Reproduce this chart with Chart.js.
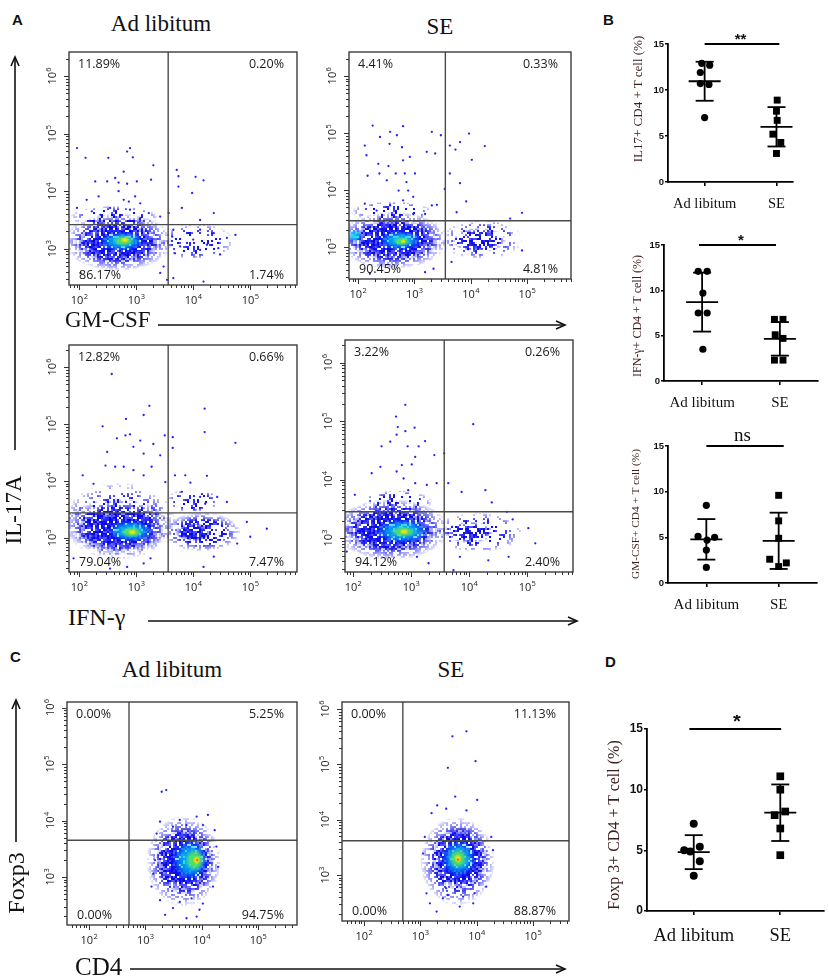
<!DOCTYPE html>
<html><head><meta charset="utf-8"><title>Flow cytometry figure</title>
<script src="https://cdn.jsdelivr.net/npm/chart.js@4.4.1/dist/chart.umd.min.js"></script>
<style>
html,body{margin:0;padding:0;background:#fff}
#fig{position:relative;width:829px;height:978px;overflow:hidden;background:#fff}
#fig canvas{position:absolute}
.tx{position:absolute;white-space:nowrap;line-height:1;color:#111}
#fig svg{position:absolute;left:0;top:0}
</style></head><body><div id="fig"></div>
<script>
// ================= DATA =================
const groups = ['Ad libitum', 'SE'];
const logTickExpX = [2, 3, 4, 5];
const logTickExpY = [3, 4, 5, 6];

// Panel B / D : individual animals (%), x-jitter, mean, SD
const il17Ad = [12.9, 12.7, 11.9, 10.7, 10.6, 7.0];
const il17AdJit = [-0.04, 0.07, -0.06, -0.06, 0.06, 0.0];
const il17SE = [8.9, 7.7, 6.7, 5.2, 4.3, 3.1];
const il17SEJit = [0.01, 0.0, 0.01, -0.05, 0.06, 0.0];
const il17Mean = [10.95, 6.0];
const il17Sd = [2.12, 2.14];

const ifngAd = [12.1, 12.1, 9.7, 7.5, 7.5, 3.5];
const ifngAdJit = [-0.05, 0.065, 0.01, -0.05, 0.065, 0.01];
const ifngSE = [6.8, 6.8, 5.1, 4.7, 2.3, 2.3];
const ifngSEJit = [-0.07, 0.04, -0.06, 0.04, -0.07, 0.04];
const ifngMean = [8.7, 4.65];
const ifngSd = [3.25, 1.85];

const gmcsfAd = [8.5, 5.1, 5.0, 4.7, 3.6, 1.7];
const gmcsfAdJit = [0.0, -0.115, 0.115, 0.01, 0.0, 0.0];
const gmcsfSE = [9.6, 6.8, 4.9, 2.6, 2.2, 1.8];
const gmcsfSEJit = [0.0, 0.0, 0.0, -0.124, 0.106, 0.0];
const gmcsfMean = [4.78, 4.62];
const gmcsfSd = [2.22, 3.08];

const foxp3Ad = [7.2, 5.3, 5.0, 4.9, 4.1, 2.9];
const foxp3AdJit = [0.0, 0.07, -0.11, -0.04, 0.07, 0.0];
const foxp3SE = [11.1, 10.0, 8.2, 7.9, 6.8, 4.6];
const foxp3SEJit = [0.0, 0.0, 0.057, -0.065, 0.0, 0.0];
const foxp3Mean = [4.85, 8.1];
const foxp3Sd = [1.4, 2.33];

const sigLabels = ['**', '*', 'ns', '*'];

// Flow plots: quadrant percentages [UL, UR, LL, LR]
const pctA1 = [11.89, 0.20, 86.17, 1.74];
const pctA2 = [4.41, 0.33, 90.45, 4.81];
const pctA3 = [12.82, 0.66, 79.04, 7.47];
const pctA4 = [3.22, 0.26, 94.12, 2.40];
const pctC1 = [0.00, 5.25, 0.00, 94.75];
const pctC2 = [0.00, 11.13, 0.00, 88.87];

// gate positions [log x, log y]
const gateA1 = [3.56, 3.42];
const gateA2 = [3.55, 3.46];
const gateA3 = [3.56, 3.44];
const gateA4 = [3.57, 3.45];
const gateC1 = [2.71, 3.65];
const gateC2 = [2.69, 3.62];

// density regions [log x centre, log y centre, log x half-width, log y half-width, density level]
const cloudA1 = [[2.62,3.55,0.78,0.20,0],[4.05,3.12,0.66,0.32,0],[2.68,3.12,0.95,0.50,1],[2.68,3.10,0.78,0.34,2],[2.75,3.13,0.40,0.17,3],[2.78,3.14,0.20,0.10,4],[2.80,3.15,0.08,0.05,5]];
const cloudA2 = [[2.60,3.62,0.72,0.18,0],[4.20,3.13,0.72,0.35,0],[4.15,3.12,0.48,0.22,1],[2.62,3.12,0.98,0.50,1],[2.65,3.12,0.82,0.36,2],[2.75,3.12,0.38,0.17,3],[1.95,3.20,0.14,0.11,3],[2.78,3.10,0.16,0.08,4],[2.80,3.10,0.05,0.04,5]];
const cloudA3 = [[2.70,3.30,0.98,0.68,0],[4.00,3.65,0.48,0.22,0],[4.15,3.10,0.68,0.34,1],[4.00,3.10,0.32,0.16,2],[2.68,3.20,0.93,0.50,1],[2.70,3.12,0.80,0.36,2],[2.90,3.12,0.40,0.19,3],[2.92,3.10,0.21,0.10,4],[2.93,3.10,0.08,0.05,5]];
const cloudA4 = [[2.75,3.62,0.62,0.20,0],[4.15,3.10,0.78,0.34,0],[4.00,3.10,0.42,0.19,1],[2.66,3.15,0.98,0.52,1],[2.66,3.13,0.82,0.36,2],[2.85,3.12,0.47,0.21,3],[2.87,3.11,0.23,0.10,4],[2.88,3.11,0.08,0.05,5]];
const cloudC1 = [[3.68,3.28,0.66,0.80,1],[3.70,3.27,0.52,0.58,2],[3.80,3.30,0.32,0.37,3],[3.88,3.30,0.18,0.21,4],[3.91,3.30,0.07,0.08,5],[3.92,3.30,0.03,0.03,6]];
const cloudC2 = [[3.66,3.25,0.66,0.80,1],[3.70,3.30,0.50,0.58,2],[3.68,3.30,0.31,0.34,3],[3.67,3.30,0.17,0.19,4],[3.67,3.30,0.07,0.08,5],[3.67,3.28,0.03,0.03,6]];

// sparse events [log x, log y]
const dotsA1 = [[1.96,4.75],[2.11,4.58],[2.51,4.58],[2.84,4.69],[2.89,4.75],[2.94,4.59],[3.30,4.45],[3.71,4.37],[3.74,4.26],[4.04,4.25],[4.18,4.19],[3.98,3.97],[2.78,4.34],[2.63,4.23],[2.49,4.17],[2.69,4.15],[2.84,4.13],[3.01,4.17],[3.26,4.20],[2.28,4.17],[2.69,4.00],[2.34,3.91],[2.98,3.91],[2.87,3.82],[2.78,3.85],[3.07,3.79],[3.74,4.08],[4.36,3.62],[4.12,3.50],[3.80,3.71],[3.57,3.62],[4.74,3.24],[4.59,3.19],[4.47,2.90],[3.42,2.58],[3.54,2.46],[3.48,2.69],[3.65,2.49],[4.18,2.43],[2.02,2.58],[2.13,3.85],[1.96,3.71],[2.22,3.65],[2.54,3.71],[2.89,3.68],[3.22,3.62],[3.42,3.56],[2.37,3.59],[3.07,3.53],[3.65,3.33],[3.89,3.27],[4.12,3.33],[4.36,3.27],[4.00,3.16],[3.77,3.04],[4.24,3.07],[4.44,3.01],[3.68,2.92],[3.89,3.10],[3.63,3.21],[4.12,2.98]];
const dotsA2 = [[2.26,5.13],[2.80,5.12],[2.39,4.93],[2.57,5.02],[2.69,4.96],[2.12,4.78],[2.56,4.81],[2.78,4.75],[2.15,4.61],[2.36,4.46],[2.54,4.42],[2.38,4.29],[2.17,4.25],[2.51,4.17],[2.67,4.29],[2.83,4.29],[2.86,4.14],[3.01,4.29],[2.92,4.58],[2.80,4.52],[2.72,3.99],[2.89,3.99],[2.80,3.82],[2.98,3.88],[3.31,5.02],[3.47,4.96],[3.22,4.67],[3.37,4.64],[3.63,4.78],[3.73,4.71],[3.81,4.84],[3.97,4.99],[4.25,4.77],[4.02,4.53],[3.63,4.29],[3.81,4.12],[3.92,3.80],[3.31,3.73],[3.40,3.74],[4.91,3.60],[4.70,3.50],[3.75,3.61],[3.54,4.02],[2.12,3.76],[2.33,3.64],[2.57,3.73],[2.98,3.58],[3.19,3.58],[2.21,2.53],[3.19,2.56],[3.34,2.62],[3.66,2.74],[4.91,2.94]];
const dotsA3 = [[2.57,5.88],[2.82,5.09],[3.23,5.32],[3.13,5.16],[2.41,4.96],[2.66,4.75],[2.81,4.80],[2.89,4.82],[2.49,4.51],[2.46,4.27],[2.63,4.25],[2.95,4.60],[3.07,4.71],[3.13,4.48],[3.30,4.65],[3.42,4.45],[3.50,4.80],[2.78,4.25],[2.95,4.19],[3.13,4.10],[3.27,4.25],[3.51,3.98],[2.06,4.10],[2.25,3.95],[3.64,4.77],[3.64,4.58],[4.20,5.27],[4.20,4.86],[4.74,4.67],[3.68,4.10],[3.86,4.10],[4.24,4.09],[3.95,3.97],[3.80,3.81],[4.12,3.72],[4.42,3.72],[4.21,3.60],[4.59,3.63],[4.94,3.28],[5.29,3.16],[5.00,3.02],[4.77,2.90],[4.36,2.67],[4.18,2.49],[3.13,2.55],[3.25,2.64],[1.90,2.64],[2.54,2.46],[2.84,2.49]];
const dotsA4 = [[2.90,5.28],[2.74,5.08],[2.77,4.90],[2.90,4.83],[3.06,4.89],[2.75,4.77],[2.64,4.65],[2.49,4.57],[2.94,4.57],[3.13,4.57],[3.24,4.66],[3.40,4.42],[3.07,4.39],[3.01,4.26],[2.84,4.25],[2.47,4.22],[2.32,4.11],[2.75,4.14],[2.87,4.02],[3.07,3.94],[3.27,3.91],[3.44,3.94],[2.95,3.82],[2.03,3.74],[3.57,4.45],[4.07,4.95],[3.64,3.94],[3.87,3.79],[4.28,3.82],[4.39,3.61],[4.65,3.45],[4.75,3.32],[5.02,3.17],[5.14,2.91],[4.68,2.68],[4.33,2.62],[3.84,2.68],[3.73,2.45],[3.10,2.68],[3.30,2.57],[1.89,2.77]];
const dotsC1 = [[3.29,4.51],[3.37,4.54],[3.20,3.77],[4.11,4.10],[3.91,4.07],[3.61,4.01],[3.26,3.98],[4.23,3.83],[4.26,3.54],[4.29,3.18],[3.14,3.06],[3.11,2.83],[3.26,2.59],[3.35,2.33],[3.49,2.45],[3.73,2.27],[3.91,2.30],[3.96,2.42],[3.82,2.62],[3.61,2.56],[4.02,2.53],[4.20,2.83],[3.17,3.30],[3.49,3.89],[3.73,3.92],[4.02,3.92]];
const dotsC2 = [[3.82,5.60],[3.57,5.51],[3.49,4.94],[3.98,5.06],[3.62,4.42],[4.01,4.36],[3.30,4.26],[3.20,4.12],[3.46,4.20],[3.82,4.17],[4.26,3.69],[4.29,3.45],[3.08,3.69],[3.05,3.39],[3.11,2.67],[3.17,2.49],[3.29,2.34],[3.40,2.58],[3.49,2.64],[3.70,2.43],[3.94,2.49],[3.96,2.67],[3.76,2.61],[3.46,2.76],[4.17,2.79]];

// ================= RENDERING =================
const fig = document.getElementById('fig');
const SERIF = '"Liberation Serif","Times New Roman",serif';
const SANS = '"Liberation Sans",Arial,sans-serif';
const OPEN = '"Open Sans","Liberation Sans",sans-serif';
const SUP = {2:'2',3:'3',4:'4',5:'5',6:'6'};

// dotted texture (deterministic hash, style only)
const texDensity = [0.2, 0.45, 0.74];
const texCols = ['#0000ff', '#2626ff', '#1010cc', '#4a4aff', '#0a0ae6'];
function hash(i, j, s) { const v = Math.sin(i * 12.9898 + j * 78.233 + s * 37.719) * 43758.5453; return v - Math.floor(v); }
function makePattern(ctx, lv) {
  const c = document.createElement('canvas'); c.width = 40; c.height = 40;
  const g = c.getContext('2d');
  for (let i = 0; i < 20; i++) for (let j = 0; j < 20; j++) {
    if (hash(i, j, lv) < texDensity[lv]) { g.fillStyle = texCols[Math.floor(hash(j, i, 9) * texCols.length)]; g.fillRect(j * 2, i * 2, 2, 2); }
  }
  return ctx.createPattern(c, 'repeat');
}
const gradCols = {
  3: ['rgba(0,215,235,0.95)', 'rgba(0,190,245,0.7)', 'rgba(0,140,255,0)'],
  4: ['rgba(70,235,60,0.95)', 'rgba(110,230,70,0.7)', 'rgba(60,220,140,0)'],
  5: ['rgba(250,235,0,1)', 'rgba(245,220,20,0.75)', 'rgba(240,230,40,0)'],
  6: ['rgba(255,40,0,1)', 'rgba(255,90,0,0.7)', 'rgba(255,120,0,0)']
};

function drawSupLabel(ctx, exp, cx, base) {
  const big = '11px ' + OPEN, small = '7.5px ' + OPEN;
  ctx.font = big; const w1 = ctx.measureText('10').width;
  ctx.font = small; const w2 = ctx.measureText(SUP[exp]).width;
  const s = cx - (w1 + w2) / 2;
  ctx.font = big; ctx.fillText('10', s, base);
  ctx.font = small; ctx.fillText(SUP[exp], s + w1 + 0.3, base - 5);
}

const flowDeco = {
  id: 'flowDeco',
  beforeDatasetsDraw(chart) {
    const o = chart.options.plugins.flowDeco;
    const {ctx, chartArea: a, scales: {x, y}} = chart;
    const W = chart.width, H = chart.height;
    if (!chart.$off) {
      chart.$off = document.createElement('canvas'); chart.$off.width = W; chart.$off.height = H;
      const oc = chart.$off.getContext('2d');
      chart.$pats = [0, 1, 2].map(lv => makePattern(oc, lv));
    }
    const off = chart.$off, oc = off.getContext('2d');
    ctx.save();
    ctx.beginPath(); ctx.rect(a.left, a.top, a.right - a.left, a.bottom - a.top); ctx.clip();
    for (const [cx, cy, rx, ry, lv] of o.cloud) {
      const px = x.getPixelForValue(10 ** cx), py = y.getPixelForValue(10 ** cy);
      const prx = Math.abs(x.getPixelForValue(10 ** (cx + rx)) - px);
      const pry = Math.abs(y.getPixelForValue(10 ** (cy + ry)) - py);
      if (lv <= 2) {
        oc.setTransform(1, 0, 0, 1, 0, 0);
        oc.globalCompositeOperation = 'source-over';
        oc.clearRect(0, 0, W, H);
        oc.fillStyle = chart.$pats[lv];
        oc.beginPath(); oc.ellipse(px, py, prx, pry, 0, 0, Math.PI * 2); oc.fill();
        oc.globalCompositeOperation = 'destination-in';
        oc.save(); oc.translate(px, py); oc.scale(prx, pry);
        const g = oc.createRadialGradient(0, 0, 0, 0, 0, 1);
        g.addColorStop(0, 'rgba(0,0,0,1)'); g.addColorStop(0.6, 'rgba(0,0,0,0.95)'); g.addColorStop(1, 'rgba(0,0,0,0.05)');
        oc.fillStyle = g; oc.beginPath(); oc.arc(0, 0, 1, 0, Math.PI * 2); oc.fill();
        oc.restore();
        oc.globalCompositeOperation = 'source-over';
        ctx.drawImage(off, 0, 0, W, H);
      } else {
        ctx.save(); ctx.translate(px, py); ctx.scale(prx, pry);
        const g = ctx.createRadialGradient(0, 0, 0, 0, 0, 1);
        const c = gradCols[lv];
        g.addColorStop(0, c[0]); g.addColorStop(0.55, c[1]); g.addColorStop(1, c[2]);
        ctx.fillStyle = g; ctx.beginPath(); ctx.arc(0, 0, 1, 0, Math.PI * 2); ctx.fill();
        ctx.restore();
      }
    }
    ctx.restore();
  },
  afterDraw(chart) {
    const o = chart.options.plugins.flowDeco;
    const {ctx, chartArea: a, scales: {x, y}} = chart;
    ctx.save();
    ctx.strokeStyle = '#3c3c3c'; ctx.lineWidth = 1.4;
    ctx.strokeRect(a.left, a.top, a.right - a.left, a.bottom - a.top);
    ctx.lineWidth = 1; ctx.strokeStyle = '#333';
    for (let e = Math.floor(o.xr[0]); e <= Math.ceil(o.xr[1]); e++) {
      for (let k = 1; k <= 9; k++) {
        const lv = e + Math.log10(k);
        if (lv < o.xr[0] || lv > o.xr[1]) continue;
        const px = Math.round(x.getPixelForValue(10 ** lv)) + 0.5;
        const len = k === 1 ? 5 : 3;
        ctx.beginPath(); ctx.moveTo(px, a.bottom); ctx.lineTo(px, a.bottom + len); ctx.stroke();
      }
    }
    for (let e = Math.floor(o.yr[0]); e <= Math.ceil(o.yr[1]); e++) {
      for (let k = 1; k <= 9; k++) {
        const lv = e + Math.log10(k);
        if (lv < o.yr[0] || lv > o.yr[1]) continue;
        const py = Math.round(y.getPixelForValue(10 ** lv)) + 0.5;
        const len = k === 1 ? 5 : 3;
        ctx.beginPath(); ctx.moveTo(a.left, py); ctx.lineTo(a.left - len, py); ctx.stroke();
      }
    }
    ctx.fillStyle = '#222'; ctx.textBaseline = 'alphabetic'; ctx.textAlign = 'left';
    logTickExpX.forEach(e => { drawSupLabel(ctx, e, x.getPixelForValue(10 ** e), a.bottom + 19); });
    logTickExpY.forEach(e => {
      ctx.save(); ctx.translate(a.left - 13, y.getPixelForValue(10 ** e)); ctx.rotate(-Math.PI / 2);
      drawSupLabel(ctx, e, 0, 0); ctx.restore();
    });
    ctx.font = '12.5px ' + OPEN; ctx.fillStyle = '#1a1a1a';
    const f = v => v.toFixed(2) + '%';
    ctx.textAlign = 'left'; ctx.fillText(f(o.pct[0]), a.left + 9, a.top + 16);
    ctx.textAlign = 'right'; ctx.fillText(f(o.pct[1]), a.right - 13, a.top + 16);
    ctx.textAlign = 'left'; ctx.fillText(f(o.pct[2]), a.left + 10, a.bottom - 6);
    ctx.textAlign = 'right'; ctx.fillText(f(o.pct[3]), a.right - 13, a.bottom - 6);
    ctx.restore();
  }
};

function flowChart(box, xr, yr, gate, pct, cloud, dots) {
  const padL = 46, padT = 6, padR = 6, padB = 30;
  const cv = document.createElement('canvas');
  cv.width = box[2] - box[0] + padL + padR; cv.height = box[3] - box[1] + padT + padB;
  cv.style.left = (box[0] - padL) + 'px'; cv.style.top = (box[1] - padT) + 'px';
  fig.appendChild(cv);
  const gateStyle = {showLine: true, borderColor: '#4a4a4a', borderWidth: 1.4, pointRadius: 0, order: 0};
  new Chart(cv, {
    type: 'scatter',
    data: {datasets: [
      Object.assign({data: [{x: 10 ** xr[0], y: 10 ** gate[1]}, {x: 10 ** xr[1], y: 10 ** gate[1]}]}, gateStyle),
      Object.assign({data: [{x: 10 ** gate[0], y: 10 ** yr[0]}, {x: 10 ** gate[0], y: 10 ** yr[1]}]}, gateStyle),
      {data: dots.map(([a, b]) => ({x: 10 ** a, y: 10 ** b})), pointRadius: 1.15, pointBackgroundColor: '#1f1fff', pointBorderWidth: 0, borderWidth: 0, showLine: false, order: 1}
    ]},
    options: {
      responsive: false, animation: false, events: [],
      layout: {padding: {left: padL, top: padT, right: padR, bottom: padB}},
      scales: {
        x: {type: 'logarithmic', display: false, min: 10 ** xr[0], max: 10 ** xr[1]},
        y: {type: 'logarithmic', display: false, min: 10 ** yr[0], max: 10 ** yr[1]}
      },
      plugins: {legend: {display: false}, tooltip: {enabled: false}, flowDeco: {cloud, pct, xr, yr}}
    },
    plugins: [flowDeco]
  });
}

const statDeco = {
  id: 'statDeco',
  afterDatasetsDraw(chart) {
    const o = chart.options.plugins.statDeco;
    const {ctx, scales: {x, y}} = chart;
    ctx.save(); ctx.strokeStyle = '#000'; ctx.lineWidth = 1.8; ctx.lineCap = 'butt';
    const L = (x1, y1, x2, y2) => { ctx.beginPath(); ctx.moveTo(x1, y1); ctx.lineTo(x2, y2); ctx.stroke(); };
    o.means.forEach((m, i) => {
      const px = x.getPixelForValue(i + 1);
      const pm = y.getPixelForValue(m), pt = y.getPixelForValue(m + o.sds[i]), pb = y.getPixelForValue(m - o.sds[i]);
      L(px - o.mw, pm, px + o.mw, pm);
      L(px, pt, px, pb);
      L(px - o.cw, pt, px + o.cw, pt);
      L(px - o.cw, pb, px + o.cw, pb);
    });
    const ys = y.getPixelForValue(15);
    L(x.getPixelForValue(o.sigX[0]), ys, x.getPixelForValue(o.sigX[1]), ys);
    ctx.fillStyle = '#111'; ctx.font = o.sigFont; ctx.textAlign = 'center'; ctx.textBaseline = 'alphabetic';
    ctx.fillText(o.sigText, x.getPixelForValue(1.5), ys + o.sigDy);
    ctx.restore();
  }
};

function dotChart(area, xr, ad, adJ, se, seJ, means, sds, sigText, sigX, sz) {
  const YW = 28, PT = 14, PR = sz.pr, XH = sz.xh;
  const cv = document.createElement('canvas');
  cv.width = area[2] + PR - (area[0] - YW); cv.height = area[3] + XH - (area[1] - PT);
  cv.style.left = (area[0] - YW) + 'px'; cv.style.top = (area[1] - PT) + 'px';
  fig.appendChild(cv);
  new Chart(cv, {
    type: 'scatter',
    data: {datasets: [
      {data: ad.map((v, i) => ({x: 1 + adJ[i], y: v})), pointStyle: 'circle', pointRadius: sz.r, pointBackgroundColor: '#000', pointBorderWidth: 0, clip: false},
      {data: se.map((v, i) => ({x: 2 + seJ[i], y: v})), pointStyle: 'rect', pointRadius: sz.r * 1.36, pointBackgroundColor: '#000', pointBorderWidth: 0, clip: false}
    ]},
    options: {
      responsive: false, animation: false, events: [],
      layout: {padding: {left: 0, top: PT, right: PR, bottom: 0}},
      scales: {
        x: {type: 'linear', min: xr[0], max: xr[1],
            afterFit: s => { s.height = XH; },
            afterBuildTicks: s => { s.ticks = [{value: 1}, {value: 2}]; },
            ticks: {callback: v => groups[Math.round(v) - 1], autoSkip: false, maxRotation: 0, padding: sz.lp,
                    font: {family: SERIF, size: sz.lf}, color: '#111'},
            grid: {drawOnChartArea: false, drawTicks: true, tickLength: 4, color: '#000', lineWidth: 1.6},
            border: {display: true, color: '#000', width: 1.8}},
        y: {type: 'linear', min: 0, max: 15,
            afterFit: s => { s.width = YW; },
            ticks: {stepSize: 5, padding: 1, font: {family: SANS, size: sz.tf, weight: 'bold'}, color: '#111'},
            grid: {drawOnChartArea: false, drawTicks: true, tickLength: 3, color: '#000', lineWidth: 1.5},
            border: {display: true, color: '#000', width: 1.8}}
      },
      plugins: {legend: {display: false}, tooltip: {enabled: false},
        statDeco: {means, sds, mw: sz.mw, cw: sz.cw, sigText, sigX, sigFont: sz.sf, sigDy: sz.sdy}}
    },
    plugins: [statDeco]
  });
}

// ---- flow plots ----
flowChart([69, 52, 297, 285], [1.82, 5.82], [2.37, 6.42], gateA1, pctA1, cloudA1, dotsA1);
flowChart([349, 52, 571, 279], [1.84, 5.78], [2.44, 6.42], gateA2, pctA2, cloudA2, dotsA2);
flowChart([69, 345, 297, 572], [1.82, 5.82], [2.40, 6.39], gateA3, pctA3, cloudA3, dotsA3);
flowChart([345, 340, 573, 572], [1.86, 5.79], [2.42, 6.39], gateA4, pctA4, cloudA4, dotsA4);
flowChart([67, 702, 297, 925], [1.61, 5.69], [2.15, 6.10], gateC1, pctC1, cloudC1, dotsC1);
flowChart([342, 702, 569, 921], [1.61, 5.64], [2.17, 6.13], gateC2, pctC2, cloudC2, dotsC2);

// ---- dot plots ----
const smallSz = {pr: 8, xh: 36, r: 3.6, lf: 14.5, lp: 9, tf: 9.5, mw: 16, cw: 9, sf: 'bold 15px ' + SANS, sdy: 0};
dotChart([668, 44, 793, 182], [0.49, 2.23], il17Ad, il17AdJit, il17SE, il17SEJit, il17Mean, il17Sd, sigLabels[0], [1.0, 2.04], smallSz);
dotChart([664, 245, 818, 381], [0.51, 2.49], ifngAd, ifngAdJit, ifngSE, ifngSEJit, ifngMean, ifngSd, sigLabels[1], [0.96, 1.95], Object.assign({}, smallSz, {lf: 15, pr: 6}));
dotChart([668, 446, 817, 583], [0.47, 2.53], gmcsfAd, gmcsfAdJit, gmcsfSE, gmcsfSEJit, gmcsfMean, gmcsfSd, sigLabels[2], [1.0, 2.07], Object.assign({}, smallSz, {lf: 15, pr: 6, sf: '19px ' + SERIF, sdy: -5}));
dotChart([647, 729, 827, 911], [0.46, 2.5], foxp3Ad, foxp3AdJit, foxp3SE, foxp3SEJit, foxp3Mean, foxp3Sd, sigLabels[3], [0.95, 2.01], {pr: 2, xh: 42, r: 4, lf: 18.5, lp: 10, tf: 12, mw: 16, cw: 9, sf: 'bold 20px ' + SANS, sdy: -1});

// ---- text ----
function txt(t, x, b, size, fam, o = {}) {
  const d = document.createElement('div'); d.className = 'tx'; d.textContent = t;
  d.style.fontFamily = fam; d.style.fontSize = size + 'px';
  if (o.bold) d.style.fontWeight = 'bold';
  if (o.color) d.style.color = o.color;
  d.style.top = (b - (fam === SERIF ? 0.84 : 0.85) * size) + 'px';
  d.style.left = x + 'px';
  if (o.center) d.style.transform = 'translateX(-50%)';
  fig.appendChild(d);
}
function rtxt(t, cx, cy, size, fam, color) {
  const d = document.createElement('div'); d.className = 'tx'; d.textContent = t;
  d.style.fontFamily = fam; d.style.fontSize = size + 'px';
  if (color) d.style.color = color;
  d.style.left = cx + 'px'; d.style.top = cy + 'px';
  d.style.transform = 'translate(-50%,-50%) rotate(-90deg)';
  fig.appendChild(d);
}
txt('A', 12, 25, 15, SANS, {bold: true});
txt('B', 603, 25, 15, SANS, {bold: true});
txt('C', 10, 662, 15, SANS, {bold: true});
txt('D', 605, 667, 15, SANS, {bold: true});
txt(groups[0], 161, 31, 23, SERIF, {center: true});
txt(groups[1], 440, 34, 23, SERIF, {center: true});
txt(groups[0], 172, 677, 23, SERIF, {center: true});
txt(groups[1], 451, 677, 23, SERIF, {center: true});
txt('GM-CSF', 65, 327, 23, SERIF);
txt('IFN-γ', 68, 625, 24, SERIF);
txt('CD4', 75, 975, 25, SERIF);
rtxt('IL-17A', 13, 510, 23, SERIF);
rtxt('Foxp3', 16, 883, 24, SERIF);
const brown = '#3b1e1e';
rtxt('IL17+ CD4 + T cell (%)', 637, 99, 13, SERIF, brown);
rtxt('IFN-γ+ CD4 + T cell (%)', 637, 316, 12, SERIF, brown);
rtxt('GM-CSF+ CD4 + T cell (%)', 636, 514, 11.3, SERIF, brown);
rtxt('Foxp 3+ CD4 + T cell (%)', 614, 825, 16, SERIF, brown);

// ---- arrows ----
fig.insertAdjacentHTML('beforeend',
 '<svg width="829" height="978"><g stroke="#111" stroke-width="1.6" fill="none">' +
 '<line x1="15" y1="58" x2="15" y2="450"/><polyline points="11,66 15,57 19,66"/>' +
 '<line x1="158" y1="325" x2="564" y2="325"/><polyline points="556,321 565,325 556,329"/>' +
 '<line x1="148" y1="621" x2="576" y2="621"/><polyline points="568,617 577,621 568,625"/>' +
 '<line x1="16" y1="701" x2="16" y2="842"/><polyline points="12,709 16,700 20,709"/>' +
 '<line x1="130" y1="969" x2="564" y2="969"/><polyline points="556,965 565,969 556,973"/>' +
 '</g></svg>');
</script></body></html>
